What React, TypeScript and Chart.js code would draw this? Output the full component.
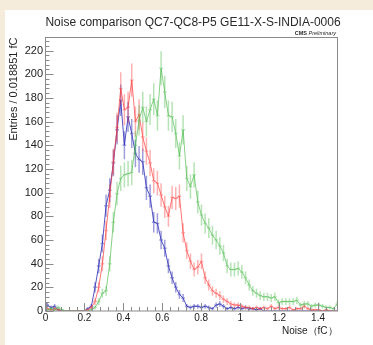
import React, { useEffect, useRef } from "react";
import { Chart, registerables } from "chart.js";
Chart.register(...registerables);

const mainTitle = "Noise comparison QC7-QC8-P5 GE11-X-S-INDIA-0006";
const cmsBold = "CMS";
const cmsItalic = "Preliminary";
const xTitle = "Noise（fC）";
const yTitle = "Entries / 0.018851 fC";

const BIN_WIDTH = 0.018851;
const X_MIN = 0;
const X_MAX = 1.5;
const Y_MIN = 0;
const Y_MAX = 231;

const xTickValues = [0, 0.2, 0.4, 0.6, 0.8, 1.0, 1.2, 1.4];
const xTickLabels = ["0", "0.2", "0.4", "0.6", "0.8", "1", "1.2", "1.4"];
const yTickValues = [0, 20, 40, 60, 80, 100, 120, 140, 160, 180, 200, 220];

const blueCounts = [
  5, 3, 4, 1, 0, 0, 0, 0, 0, 0,
  0, 2, 4, 20, 38, 57, 89, 102, 125, 153,
  178, 140, 164, 150, 133, 128, 126, 104, 97, 75,
  74, 60, 53, 38, 28, 20, 14, 11, 4, 3,
  4, 4, 3, 4, 3, 2, 5, 6, 4, 2,
  3, 2, 3, 2, 3, 2, 2, 1, 2, 0,
  0, 0, 0, 0, 0, 0, 0, 0, 0, 0,
  0, 0, 0, 0, 0, 0, 0, 0, 0, 0,
];
const redCounts = [
  2, 1, 2, 1, 0, 0, 0, 0, 0, 0,
  0, 1, 3, 8, 20, 40, 68, 97, 126, 155,
  188, 170, 172, 195, 160, 166, 147, 135, 125, 110,
  108, 98, 88, 80, 96, 95, 97, 66, 51, 42,
  35, 37, 42, 28, 22, 17, 15, 13, 10, 8,
  6, 5, 5, 4, 3, 3, 2, 3, 2, 3,
  2, 4, 2, 3, 2, 2, 3, 1, 2, 2,
  4, 2, 1, 1, 1, 0, 1, 0, 0, 0,
];
const greenCounts = [
  1, 2, 1, 3, 1, 0, 0, 0, 0, 0,
  0, 0, 1, 3, 8, 15, 17, 40, 75, 99,
  112, 115, 116, 117, 140, 161, 172, 160, 170, 179,
  165, 205, 185, 165, 164, 150, 131, 153, 112, 105,
  115, 92, 81, 74, 70, 64, 60, 55, 49, 38,
  35, 35, 36, 33, 28, 22, 17, 15, 13, 12,
  12, 11, 12, 7, 8, 8, 8, 8, 9, 5,
  6, 6, 4, 5, 5, 4, 3, 3, 2, 6,
];

const FONT = "'Liberation Sans', Arial, Helvetica, sans-serif";

function toPoints(counts: number[]) {
  return counts.map((c, i) => ({ x: (i + 0.5) * BIN_WIDTH, y: c }));
}

const bgPlugin = {
  id: "bg",
  beforeDraw(chart: any) {
    const { ctx, width, height } = chart;
    ctx.save();
    ctx.fillStyle = "#f5ecdc";
    ctx.fillRect(0, 0, width, height);
    ctx.fillStyle = "#ffffff";
    ctx.fillRect(5, 10, width - 5, height - 10);
    ctx.restore();
  },
};

const errorBarPlugin = {
  id: "errbars",
  beforeDatasetDraw(chart: any, args: any) {
    const ds = chart.data.datasets[args.index];
    const { ctx, chartArea } = chart;
    const x = chart.scales.x;
    const y = chart.scales.y;
    ctx.save();
    ctx.beginPath();
    ctx.rect(chartArea.left, chartArea.top, chartArea.right - chartArea.left, chartArea.bottom - chartArea.top);
    ctx.clip();
    ctx.strokeStyle = ds.errColor;
    ctx.lineWidth = 1.5;
    ds.data.forEach((p: any) => {
      if (p.y <= 0) return;
      const e = Math.sqrt(p.y);
      const px = x.getPixelForValue(p.x);
      const py = y.getPixelForValue(p.y);
      ctx.beginPath();
      ctx.moveTo(px, y.getPixelForValue(p.y - e));
      ctx.lineTo(px, y.getPixelForValue(p.y + e));
      ctx.moveTo(x.getPixelForValue(p.x - BIN_WIDTH / 2), py);
      ctx.lineTo(x.getPixelForValue(p.x + BIN_WIDTH / 2), py);
      ctx.stroke();
    });
    ctx.restore();
  },
};

const framePlugin = {
  id: "frame",
  afterDatasetsDraw(chart: any) {
    const { ctx, chartArea } = chart;
    const x = chart.scales.x;
    const y = chart.scales.y;
    const { left, right, top, bottom } = chartArea;
    ctx.save();
    ctx.strokeStyle = "#8a8a8a";
    ctx.lineWidth = 1;
    ctx.strokeRect(left, top, right - left, bottom - top);
    ctx.beginPath();
    for (let v = 0; v <= Y_MAX; v += 4) {
      const py = Math.round(y.getPixelForValue(v)) + 0.5;
      const len = v % 20 === 0 ? 8 : 4;
      ctx.moveTo(left, py);
      ctx.lineTo(left + len, py);
    }
    for (let k = 0; k <= 37; k++) {
      const v = k * 0.04;
      const px = Math.round(x.getPixelForValue(v)) + 0.5;
      const len = k % 5 === 0 ? 8 : 4;
      ctx.moveTo(px, bottom);
      ctx.lineTo(px, bottom - len);
    }
    ctx.stroke();

    // titles
    ctx.fillStyle = "#2a2a2a";
    ctx.textAlign = "center";
    ctx.textBaseline = "alphabetic";
    ctx.font = `12px ${FONT}`;
    ctx.fillText(mainTitle, 193, 25.5);

    ctx.textAlign = "left";
    ctx.font = `italic 5.5px ${FONT}`;
    const wi = ctx.measureText(cmsItalic).width;
    ctx.font = `bold 5.5px ${FONT}`;
    const wb = ctx.measureText(cmsBold + " ").width;
    const startX = 336 - wi - wb;
    ctx.fillText(cmsBold, startX, 35);
    ctx.font = `italic 5.5px ${FONT}`;
    ctx.fillText(cmsItalic, startX + wb, 35);
    ctx.restore();
  },
};

export default function App() {
  const ref = useRef<HTMLCanvasElement>(null);
  useEffect(() => {
    const canvas = ref.current!;
    const chart = new Chart(canvas, {
      type: "line",
      data: {
        datasets: [
          {
            label: "green",
            data: toPoints(greenCounts),
            borderColor: "rgba(70,185,70,0.65)",
            errColor: "rgba(70,185,70,0.4)",
            borderWidth: 1,
            pointRadius: 0,
            tension: 0,
          } as any,
          {
            label: "red",
            data: toPoints(redCounts),
            borderColor: "rgba(255,60,60,0.7)",
            errColor: "rgba(255,60,60,0.4)",
            borderWidth: 1,
            pointRadius: 0,
            tension: 0,
          } as any,
          {
            label: "blue",
            data: toPoints(blueCounts),
            borderColor: "rgba(40,40,180,0.8)",
            errColor: "rgba(40,40,180,0.45)",
            borderWidth: 1,
            pointRadius: 0,
            tension: 0,
          } as any,
        ],
      },
      options: {
        responsive: false,
        animation: false,
        devicePixelRatio: 1,
        layout: { padding: { left: 5, top: 37.5, right: 35.5, bottom: 0 } },
        plugins: {
          legend: { display: false },
          title: { display: false },
          tooltip: { enabled: false },
        },
        scales: {
          x: {
            type: "linear",
            min: X_MIN,
            max: X_MAX,
            grid: { display: false, drawTicks: false },
            border: { display: false },
            afterBuildTicks: (s: any) => {
              s.ticks = xTickValues.map((v) => ({ value: v }));
            },
            afterFit: (s: any) => {
              s.height = 34;
            },
            ticks: {
              autoSkip: false,
              maxRotation: 0,
              padding: 1,
              color: "#222",
              font: { family: FONT, size: 10 },
              callback: (v: any) => {
                const i = xTickValues.findIndex((t) => Math.abs(t - Number(v)) < 1e-6);
                return i >= 0 ? xTickLabels[i] : "";
              },
            },
            title: {
              display: true,
              text: xTitle,
              align: "end",
              color: "#222",
              font: { family: FONT, size: 10 },
              padding: { top: 0, bottom: 7.5 },
            },
          },
          y: {
            type: "linear",
            min: Y_MIN,
            max: Y_MAX,
            grid: { display: false, drawTicks: false },
            border: { display: false },
            afterBuildTicks: (s: any) => {
              s.ticks = yTickValues.map((v) => ({ value: v }));
            },
            afterFit: (s: any) => {
              s.width = 40.5;
            },
            ticks: {
              autoSkip: false,
              padding: 2.5,
              color: "#222",
              font: { family: FONT, size: 11 },
              callback: (v: any) => String(v),
            },
            title: {
              display: true,
              text: yTitle,
              align: "end",
              color: "#222",
              font: { family: FONT, size: 11 },
              padding: { top: 2, bottom: 0 },
            },
          },
        },
      } as any,
      plugins: [bgPlugin, errorBarPlugin, framePlugin],
    });
    return () => chart.destroy();
  }, []);
  return (
    <div style={{ position: "fixed", left: 0, top: 0, width: 373, height: 345 }}>
      <canvas ref={ref} width={373} height={345} style={{ display: "block" }} />
    </div>
  );
}
